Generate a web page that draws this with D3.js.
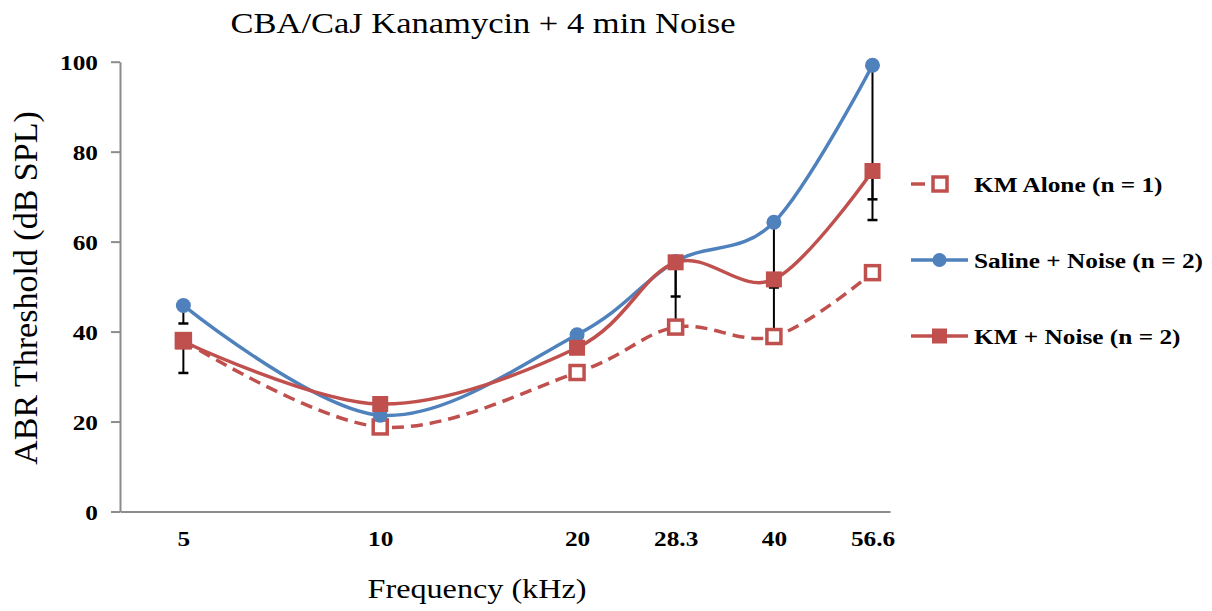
<!DOCTYPE html>
<html>
<head>
<meta charset="utf-8">
<script src="https://cdn.jsdelivr.net/npm/d3@7"></script>
<style>
  body { margin: 0; background: #fff; }
  text { font-family: "Liberation Serif", "Times New Roman", serif; fill: #000; }
</style>
</head>
<body>
<svg id="chart" width="1212" height="611"></svg>
<script>
// DATA
const freqs = [5, 10, 20, 28.3, 40, 56.6];
const freqLabels = ["5", "10", "20", "28.3", "40", "56.6"];
const yTicks = [0, 20, 40, 60, 80, 100];

const kmAlone = [38, 18.8, 30.9, 41, 38.9, 53.1];
const salineNoise = [45.8, 21.4, 39.3, 55.6, 64.3, 99.2];
const kmNoise = [37.8, 23.9, 36.4, 55.4, 51.6, 75.7];

// lower error bars only (dB)
const salineErrLow = [4, 3, 0, 14.6, 24.6, 34.4];
const kmNoiseErrLow = [7, 0, 0, 7.6, 1.8, 6.3];

const seriesNames = ["KM Alone (n = 1)", "Saline + Noise (n = 2)", "KM + Noise (n = 2)"];

// SETUP
const blue = "#4f81bd", red = "#c0504d", axisGray = "#8c8c8c";
const stretch = 1.15; // text in the picture is a bit wide

const svg = d3.select("#chart");

const x = d3.scaleLog().base(2)
    .domain([4, 60.2])
    .range([120, 890]);

const y = d3.scaleLinear()
    .domain([0, 100])
    .range([511.5, 61.7]);

// AXES
const yAxis = svg.append("g")
    .attr("transform", `translate(${x.range()[0]},0)`)
    .call(d3.axisLeft(y).tickValues(yTicks).tickSize(9).tickSizeOuter(0));
yAxis.select(".domain").attr("stroke", axisGray).attr("stroke-width", 2);
yAxis.selectAll(".tick line").attr("stroke", axisGray).attr("stroke-width", 2);
yAxis.selectAll(".tick text")
    .attr("x", null).attr("dy", null).attr("y", 7.5)
    .attr("transform", `translate(-22,0) scale(${stretch},1)`)
    .attr("text-anchor", "end")
    .style("font-size", "22px").style("font-weight", "bold");

const xAxis = svg.append("g")
    .attr("transform", `translate(0,${y(0)})`)
    .call(d3.axisBottom(x).tickValues(freqs).tickSize(0).tickSizeOuter(0)
        .tickFormat((d, i) => freqLabels[i]));
xAxis.select(".domain").attr("stroke", axisGray).attr("stroke-width", 2);
xAxis.selectAll(".tick text")
    .attr("y", 35).attr("dy", null)
    .attr("transform", `scale(${stretch},1)`)
    .style("font-size", "22px").style("font-weight", "bold");

// TITLES
svg.append("text")
    .attr("transform", `translate(483,33) scale(${stretch},1)`)
    .attr("text-anchor", "middle")
    .style("font-size", "30px")
    .text("CBA/CaJ Kanamycin + 4 min Noise");

svg.append("text")
    .attr("transform", `translate(477,598) scale(${stretch},1)`)
    .attr("text-anchor", "middle")
    .style("font-size", "28px")
    .text("Frequency (kHz)");

svg.append("text")
    .attr("transform", "translate(37,288) rotate(-90)")
    .attr("text-anchor", "middle")
    .style("font-size", "34px")
    .text("ABR Threshold (dB SPL)");

// ERROR BARS (drawn under the markers)
const errGroup = svg.append("g");
[[salineNoise, salineErrLow], [kmNoise, kmNoiseErrLow]].forEach(([vals, errs]) => {
    freqs.forEach((f, i) => {
        if (!errs[i]) return;
        const cx = x(f), y0 = y(vals[i]), y1 = y(vals[i] - errs[i]);
        errGroup.append("line")
            .attr("x1", cx).attr("x2", cx).attr("y1", y0).attr("y2", y1)
            .attr("stroke", "#000").attr("stroke-width", 2);
        errGroup.append("line")
            .attr("x1", cx - 5).attr("x2", cx + 5).attr("y1", y1).attr("y2", y1)
            .attr("stroke", "#000").attr("stroke-width", 2.5);
    });
});

// LINES
const line = d3.line()
    .x(d => x(d.f))
    .y(d => y(d.v))
    .curve(d3.curveCardinal.tension(0));

const toPts = vals => freqs.map((f, i) => ({ f, v: vals[i] }));

// KM alone: dashed, open squares
svg.append("path")
    .datum(toPts(kmAlone))
    .attr("d", line)
    .attr("fill", "none")
    .attr("stroke", red)
    .attr("stroke-width", 3.5)
    .attr("stroke-dasharray", "12,7");
svg.append("g").selectAll("rect")
    .data(toPts(kmAlone))
    .join("rect")
    .attr("x", d => x(d.f) - 7).attr("y", d => y(d.v) - 7)
    .attr("width", 14).attr("height", 14)
    .attr("fill", "#fff").attr("stroke", red).attr("stroke-width", 3.5);

// Saline + Noise: blue circles
svg.append("path")
    .datum(toPts(salineNoise))
    .attr("d", line)
    .attr("fill", "none")
    .attr("stroke", blue)
    .attr("stroke-width", 3.5);
svg.append("g").selectAll("circle")
    .data(toPts(salineNoise))
    .join("circle")
    .attr("cx", d => x(d.f)).attr("cy", d => y(d.v))
    .attr("r", 7.5)
    .attr("fill", blue);

// KM + Noise: red squares
svg.append("path")
    .datum(toPts(kmNoise))
    .attr("d", line)
    .attr("fill", "none")
    .attr("stroke", red)
    .attr("stroke-width", 3.5);
svg.append("g").selectAll("rect")
    .data(toPts(kmNoise))
    .join("rect")
    .attr("x", d => x(d.f) - 8).attr("y", d => y(d.v) - 8)
    .attr("width", 16).attr("height", 16)
    .attr("fill", red);

// LEGEND
const legend = svg.append("g").attr("transform", "translate(911,184)");
seriesNames.forEach((name, i) => {
    const g = legend.append("g").attr("transform", `translate(0,${i * 76})`);
    if (i === 0) {
        g.append("line").attr("x1", 0).attr("x2", 14)
            .attr("stroke", red).attr("stroke-width", 3.5);
        g.append("rect").attr("x", 22).attr("y", -7).attr("width", 14).attr("height", 14)
            .attr("fill", "#fff").attr("stroke", red).attr("stroke-width", 3.5);
    } else if (i === 1) {
        g.append("line").attr("x1", 0).attr("x2", 57)
            .attr("stroke", blue).attr("stroke-width", 3.5);
        g.append("circle").attr("cx", 28.5).attr("r", 7).attr("fill", blue);
    } else {
        g.append("line").attr("x1", 0).attr("x2", 57)
            .attr("stroke", red).attr("stroke-width", 3.5);
        g.append("rect").attr("x", 21).attr("y", -7.5).attr("width", 15).attr("height", 15)
            .attr("fill", red);
    }
    g.append("text")
        .attr("transform", `translate(63,8) scale(${stretch},1)`)
        .style("font-size", "22px").style("font-weight", "bold")
        .text(name);
});
</script>
</body>
</html>
